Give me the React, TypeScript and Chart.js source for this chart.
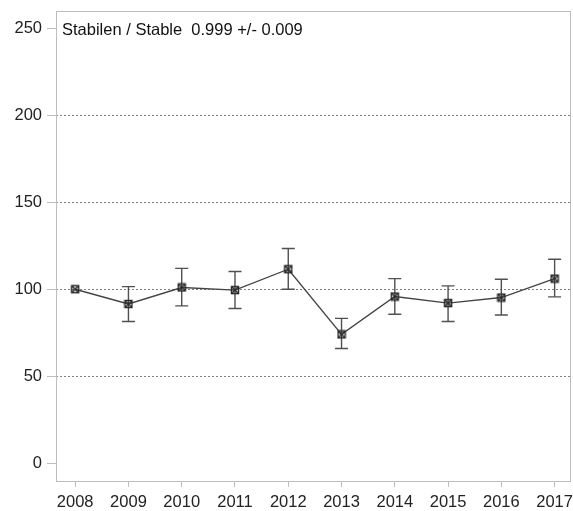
import React, { useEffect, useRef } from "react";
import { Chart, registerables } from "chart.js";

Chart.register(...registerables);

const years = ["2008", "2009", "2010", "2011", "2012", "2013", "2014", "2015", "2016", "2017"];
const values = [100, 91.5, 101, 99.5, 111.5, 74, 95.8, 92, 95.2, 106.1];
const upper = [100, 101.5, 112, 110.2, 123.4, 83.2, 106.1, 101.9, 105.7, 117.2];
const lower = [100, 81.4, 90.4, 88.9, 100, 65.9, 85.6, 81.4, 85.2, 95.6];
const yTicks = [0, 50, 100, 150, 200, 250];
const gridValues = [50, 100, 150, 200];
const annotation = "Stabilen / Stable  0.999 +/- 0.009";

const FONT = "'Liberation Sans', Arial, sans-serif";

function makeMarker(): HTMLCanvasElement {
  const c = document.createElement("canvas");
  c.width = 10;
  c.height = 10;
  const ctx = c.getContext("2d")!;
  ctx.strokeStyle = "#2a2a2a";
  ctx.lineWidth = 1.5;
  ctx.strokeRect(1.5, 1.5, 7, 7);
  ctx.beginPath();
  ctx.moveTo(1.5, 1.5);
  ctx.lineTo(8.5, 8.5);
  ctx.moveTo(8.5, 1.5);
  ctx.lineTo(1.5, 8.5);
  ctx.stroke();
  return c;
}

const boxPlugin = {
  id: "boxAndBars",
  beforeDatasetsDraw(chart: any) {
    const { ctx, scales } = chart;
    const xs = scales.x;
    const ys = scales.y;
    ctx.save();
    ctx.strokeStyle = "#505050";
    ctx.lineWidth = 1.4;
    for (let i = 0; i < values.length; i++) {
      if (upper[i] === lower[i]) continue;
      const x = xs.getPixelForValue(i);
      const y1 = ys.getPixelForValue(upper[i]);
      const y2 = ys.getPixelForValue(lower[i]);
      ctx.beginPath();
      ctx.moveTo(x, y1);
      ctx.lineTo(x, y2);
      ctx.moveTo(x - 6.5, y1);
      ctx.lineTo(x + 6.5, y1);
      ctx.moveTo(x - 6.5, y2);
      ctx.lineTo(x + 6.5, y2);
      ctx.stroke();
    }
    ctx.restore();
  },
  afterDraw(chart: any) {
    const { ctx, chartArea, scales } = chart;
    ctx.save();
    ctx.strokeStyle = "#bdbdbd";
    ctx.lineWidth = 1;
    ctx.strokeRect(
      Math.round(chartArea.left) + 0.5,
      Math.round(chartArea.top) + 0.5,
      Math.round(chartArea.right - chartArea.left) - 1,
      Math.round(chartArea.bottom - chartArea.top)
    );
    ctx.fillStyle = "#111";
    ctx.font = `16.5px ${FONT}`;
    ctx.textBaseline = "middle";
    ctx.fillText(annotation, chartArea.left + 6, scales.y.getPixelForValue(250) + 2);
    ctx.restore();
  },
};

export default function App() {
  const ref = useRef<HTMLCanvasElement | null>(null);
  useEffect(() => {
    const marker = makeMarker();
    const chart = new Chart(ref.current!, {
      type: "line",
      data: {
        datasets: [
          {
            data: values.map((v, i) => ({ x: i, y: v })),
            borderColor: "#444",
            borderWidth: 1.4,
            pointStyle: marker as any,
            pointRadius: 5,
            tension: 0,
            fill: false,
          },
        ],
      },
      options: {
        animation: false,
        responsive: false,
        maintainAspectRatio: false,
        layout: { padding: { left: 0, right: 2, top: 11, bottom: 0 } },
        plugins: { legend: { display: false }, tooltip: { enabled: false } },
        scales: {
          x: {
            type: "linear",
            min: -0.36,
            max: 9.3,
            afterBuildTicks: (s: any) => {
              s.ticks = years.map((_, i) => ({ value: i }));
            },
            afterFit: (s: any) => {
              s.height = 30;
              s.paddingLeft = 0;
              s.paddingRight = 0;
            },
            border: { display: false },
            grid: { drawOnChartArea: false, tickLength: 6, tickColor: "#bdbdbd" },
            ticks: {
              padding: 6,
              color: "#222",
              font: { family: FONT, size: 16.5 },
              callback: (v: any) => years[v as number] ?? "",
              maxRotation: 0,
              autoSkip: false,
            },
          },
          y: {
            min: -10.3,
            max: 260,
            afterBuildTicks: (s: any) => {
              s.ticks = yTicks.map((v) => ({ value: v }));
            },
            afterFit: (s: any) => {
              s.width = 56;
              s.paddingTop = 0;
              s.paddingBottom = 0;
            },
            border: { display: false, dash: [2, 2] },
            grid: {
              tickLength: 9,
              tickColor: "#bdbdbd",
              color: (c: any) => (gridValues.includes(c.tick?.value) ? "#808080" : "transparent"),
              lineWidth: 1,
            },
            ticks: {
              padding: 5,
              color: "#222",
              font: { family: FONT, size: 16.5 },
            },
          },
        },
      },
      plugins: [boxPlugin],
    });
    return () => chart.destroy();
  }, []);
  return (
    <div style={{ position: "fixed", left: 0, top: 0, width: 573, height: 511, overflow: "hidden", background: "#fff" }}>
      <canvas ref={ref} width={577} height={511} style={{ width: 577, height: 511, display: "block" }} />
    </div>
  );
}
